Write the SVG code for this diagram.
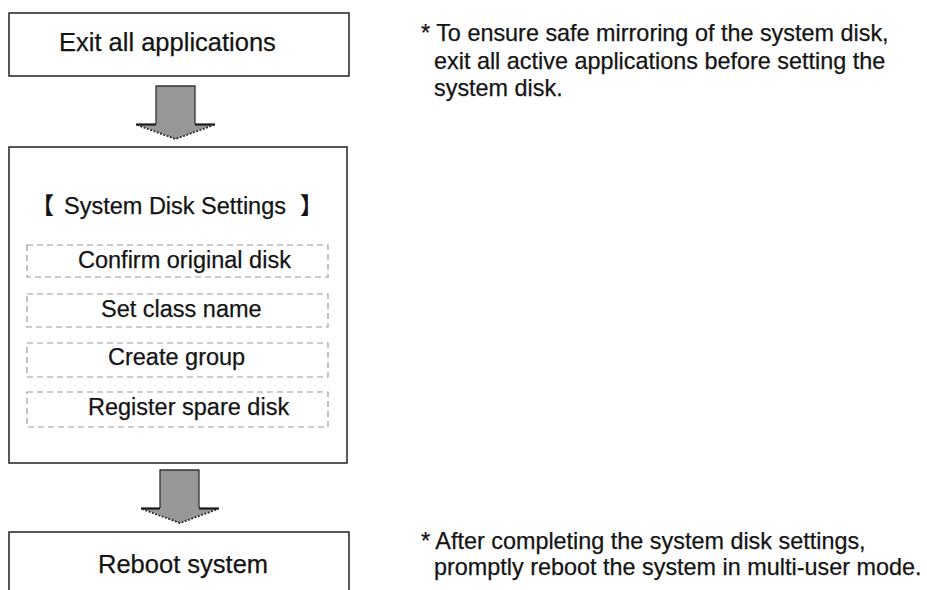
<svg xmlns="http://www.w3.org/2000/svg" width="927" height="590" viewBox="0 0 927 590">
  <style>
    .box { fill: #ffffff; stroke: #222222; stroke-width: 1.5; }
    .sub { fill: none; stroke: #9a9a9a; stroke-width: 1.2; stroke-dasharray: 6 4; }
    .t { font-family: "Liberation Sans", Arial, Helvetica, sans-serif; fill: #141414; stroke: #141414; stroke-width: 0.25; }
    .big { font-size: 25.5px; }
    .mid { font-size: 23.5px; }
    .note { font-size: 23.4px; }
    .cjk { font-family: "Noto Sans CJK JP", "Noto Sans CJK SC", sans-serif; font-size: 23px; font-weight: bold; fill: #141414; }
    .afill { fill: #979797; stroke: none; }
    .ashaft { fill: none; stroke: #333333; stroke-width: 1.3; }
    .ashoulder { fill: none; stroke: #1a1a1a; stroke-width: 2.2; }
    .adiag { fill: none; stroke: #2a2a2a; stroke-width: 1.8; stroke-dasharray: 2 1.5; }
  </style>
  <rect width="927" height="590" fill="#ffffff"/>

  <g id="connectors">
    <g id="arrow1">
      <polygon class="afill" points="156,86 195,86 195,124 215,124 175.5,139 136,124 156,124"/>
      <polyline class="ashaft" points="156,124 156,86 195,86 195,124"/>
      <polyline class="ashoulder" points="136,124.5 156,124.5"/>
      <polyline class="ashoulder" points="195,124.5 215,124.5"/>
      <polyline class="adiag" points="137,125 175.5,139 214,125"/>
    </g>
    <g id="arrow2">
      <polygon class="afill" points="160,470 199,470 199,508 219,508 180,523 141,508 160,508"/>
      <polyline class="ashaft" points="160,508 160,470 199,470 199,508"/>
      <polyline class="ashoulder" points="141,508.5 160,508.5"/>
      <polyline class="ashoulder" points="199,508.5 219,508.5"/>
      <polyline class="adiag" points="142,509 180,523 218,509"/>
    </g>
  </g>

  <g id="node-exit">
    <rect class="box" x="9" y="13" width="340" height="63"/>
    <text class="t big" x="59" y="51">Exit all applications</text>
  </g>

  <g id="node-settings">
    <rect class="box" x="9" y="147" width="338" height="316"/>
    <text class="cjk" x="31" y="214">【</text>
    <text class="t mid" x="64" y="214">System Disk Settings</text>
    <text class="cjk" x="300" y="214">】</text>
    <g id="step-confirm">
      <rect class="sub" x="27" y="245" width="301" height="32"/>
      <text class="t mid" x="78" y="268">Confirm original disk</text>
    </g>
    <g id="step-class">
      <rect class="sub" x="27" y="294" width="301" height="33"/>
      <text class="t mid" x="101" y="317">Set class name</text>
    </g>
    <g id="step-group">
      <rect class="sub" x="27" y="343" width="301" height="34"/>
      <text class="t mid" x="108" y="365">Create group</text>
    </g>
    <g id="step-spare">
      <rect class="sub" x="27" y="392" width="301" height="35"/>
      <text class="t mid" x="88" y="415">Register spare disk</text>
    </g>
  </g>

  <g id="node-reboot">
    <rect class="box" x="9" y="532" width="340" height="70"/>
    <text class="t big" x="98" y="573">Reboot system</text>
  </g>

  <g id="note-top">
    <text class="t note" x="421" y="41">* To ensure safe mirroring of the system disk,</text>
    <text class="t note" x="434" y="69">exit all active applications before setting the</text>
    <text class="t note" x="434" y="96">system disk.</text>
  </g>

  <g id="note-bottom">
    <text class="t note" x="421" y="549">* After completing the system disk settings,</text>
    <text class="t note" x="434" y="575">promptly reboot the system in multi-user mode.</text>
  </g>
</svg>
